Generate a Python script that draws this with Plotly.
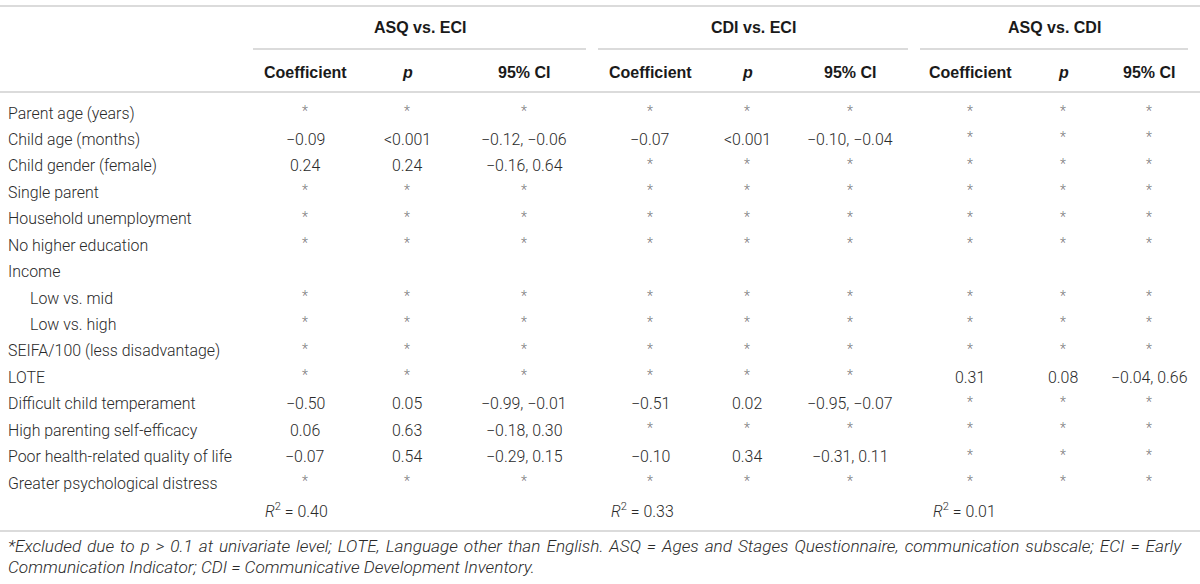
import plotly.graph_objects as go

# row labels (indented rows belong to Income)
rows = ["Parent age (years)", "Child age (months)", "Child gender (female)",
        "Single parent", "Household unemployment", "No higher education",
        "Income", "Low vs. mid", "Low vs. high", "SEIFA/100 (less disadvantage)",
        "LOTE", "Difficult child temperament", "High parenting self-efficacy",
        "Poor health-related quality of life", "Greater psychological distress"]
indented = ["Low vs. mid", "Low vs. high"]

groups = ["ASQ vs. ECI", "CDI vs. ECI", "ASQ vs. CDI"]
subheads = ["Coefficient", "<i>p</i>", "95% CI"]

asq_eci_coef = ["*", "−0.09", "0.24", "*", "*", "*", "", "*", "*", "*", "*", "−0.50", "0.06", "−0.07", "*"]
asq_eci_p = ["*", "<0.001", "0.24", "*", "*", "*", "", "*", "*", "*", "*", "0.05", "0.63", "0.54", "*"]
asq_eci_ci = ["*", "−0.12, −0.06", "−0.16, 0.64", "*", "*", "*", "", "*", "*", "*", "*",
              "−0.99, −0.01", "−0.18, 0.30", "−0.29, 0.15", "*"]

cdi_eci_coef = ["*", "−0.07", "*", "*", "*", "*", "", "*", "*", "*", "*", "−0.51", "*", "−0.10", "*"]
cdi_eci_p = ["*", "<0.001", "*", "*", "*", "*", "", "*", "*", "*", "*", "0.02", "*", "0.34", "*"]
cdi_eci_ci = ["*", "−0.10, −0.04", "*", "*", "*", "*", "", "*", "*", "*", "*",
              "−0.95, −0.07", "*", "−0.31, 0.11", "*"]

asq_cdi_coef = ["*", "*", "*", "*", "*", "*", "", "*", "*", "*", "0.31", "*", "*", "*", "*"]
asq_cdi_p = ["*", "*", "*", "*", "*", "*", "", "*", "*", "*", "0.08", "*", "*", "*", "*"]
asq_cdi_ci = ["*", "*", "*", "*", "*", "*", "", "*", "*", "*", "−0.04, 0.66", "*", "*", "*", "*"]

r2 = ["0.40", "0.33", "0.01"]

footnote = ["*Excluded due to p &gt; 0.1 at univariate level; LOTE, Language other than English. "
            "ASQ = Ages and Stages Questionnaire, communication subscale; ECI = Early",
            "Communication Indicator; CDI = Communicative Development Inventory."]

columns = [asq_eci_coef, asq_eci_p, asq_eci_ci,
           cdi_eci_coef, cdi_eci_p, cdi_eci_ci,
           asq_cdi_coef, asq_cdi_p, asq_cdi_ci]

# layout (pixel space of the 1200x584 page)
col_x = [305, 407, 524, 650, 747, 850, 970, 1063, 1149]
group_span = [(253, 586), (598, 908), (920, 1188)]
r2_x = [264, 610, 932]
row_y0, row_dy = 113, 26.43
line_col = "#cfcfcf"
txt_col = "#2a2a2a"
star_col = "#7a7a7a"
body_font = "Roboto, Liberation Sans, Arial"
head_font = "Liberation Sans, Arial"

fig = go.Figure()
ann = []


def txt(x, y, s, size=15.9, color=txt_col, anchor="center", weight=300, family=body_font):
    ann.append(dict(x=x, y=y, xref="x", yref="y", text=s, showarrow=False,
                    xanchor=anchor, yanchor="middle", borderpad=0,
                    font=dict(family=family, size=size, color=color, weight=weight)))


# group headers + sub headers
for g, (x0, x1) in zip(groups, group_span):
    txt((x0 + x1) / 2, 27, "<b>" + g + "</b>", size=16, color="#1a1a1a", weight=700, family=head_font)
for i, x in enumerate(col_x):
    txt(x, 72, "<b>" + subheads[i % 3] + "</b>", size=16, color="#1a1a1a", weight=700, family=head_font)

# body
for r, label in enumerate(rows):
    y = row_y0 + r * row_dy
    txt(29 if label in indented else 7, y, label, anchor="left")
    for c, x in zip(columns, col_x):
        v = c[r]
        if v == "*":
            txt(x, y - 2, v, size=14, color=star_col)
        elif v:
            txt(x, y, v.replace("<", "&lt;"))

y_r2 = row_y0 + len(rows) * row_dy + 1
for x, v in zip(r2_x, r2):
    txt(x, y_r2, "<i>R</i><sup>2</sup> = " + v, anchor="left")

# footnote; first line is justified in the reference, so widen its word gaps a bit
line1 = footnote[0].replace(" ", " \u200a")
txt(7, 546, "<i>" + line1 + "</i>", size=17.2, anchor="left")
txt(7, 567, "<i>" + footnote[1] + "</i>", size=17.2, anchor="left")

fig.update_layout(annotations=ann)

# rules
shapes = []
for y in (6, 92, 531):
    shapes.append(dict(type="line", xref="x", yref="y", x0=0, x1=1200, y0=y, y1=y,
                       line=dict(color=line_col, width=1.5)))
for x0, x1 in group_span:
    shapes.append(dict(type="line", xref="x", yref="y", x0=x0, x1=x1, y0=49, y1=49,
                       line=dict(color=line_col, width=1.5)))
fig.update_layout(shapes=shapes)

fig.update_layout(width=1200, height=584, margin=dict(l=0, r=0, t=0, b=0),
                  paper_bgcolor="white", plot_bgcolor="white", showlegend=False,
                  xaxis=dict(range=[0, 1200], visible=False, fixedrange=True),
                  yaxis=dict(range=[584, 0], visible=False, fixedrange=True))

fig.write_html("out.html", config={"displayModeBar": False},
               post_script="document.body.style.margin='0';")
